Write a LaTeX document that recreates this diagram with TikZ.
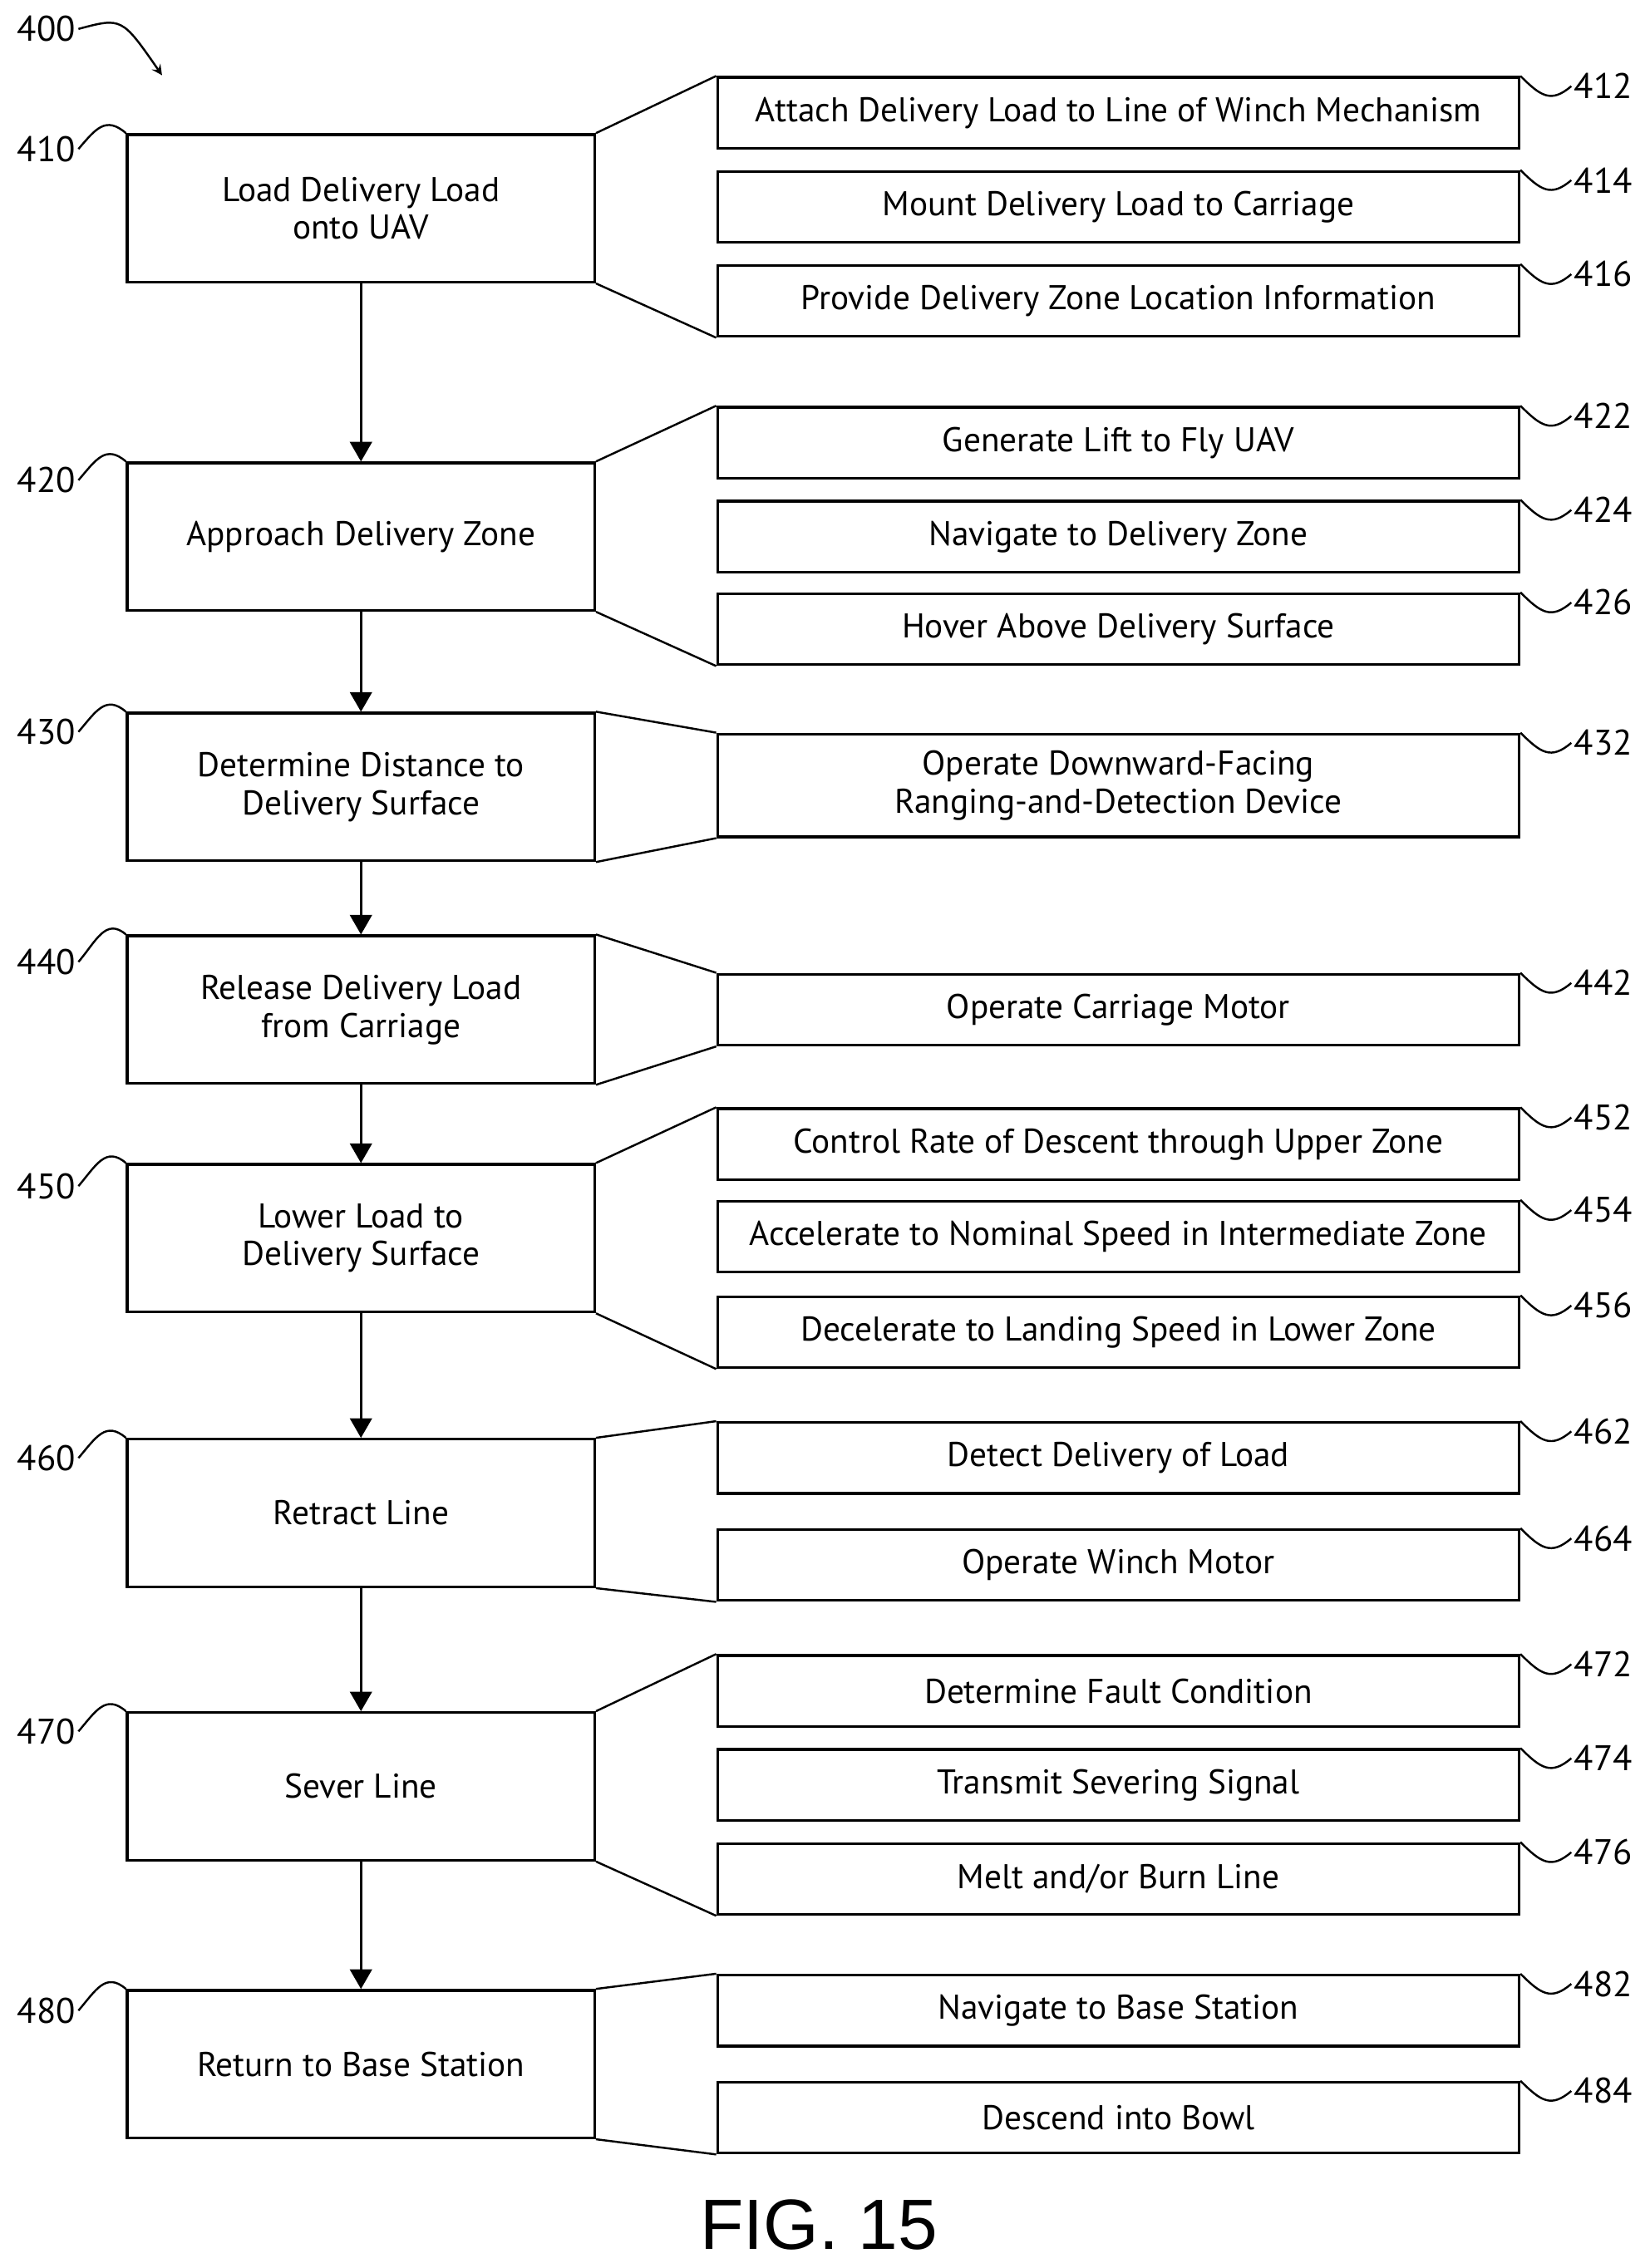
\documentclass[tikz,border=0pt]{standalone}
\usepackage{fontspec}
\setmainfont{PT Sans}
\setsansfont{Liberation Sans}
\usetikzlibrary{arrows,positioning,calc}
\begin{document}
\begin{tikzpicture}[x=0.02cm, y=-0.02cm,
    mainstep/.style={rectangle, draw, line width=1.1pt, minimum width=323*0.02cm, minimum height=102*0.02cm, align=center, font=\fontsize{13.5}{15}\selectfont, inner sep=0pt},
    substep/.style={rectangle, draw, line width=1.1pt, minimum width=554*0.02cm, minimum height=49*0.02cm, align=center, font=\fontsize{13.5}{15}\selectfont, inner sep=0pt},
    num/.style={font=\fontsize{14}{15}\selectfont, inner sep=1pt},
    link/.style={line width=0.8pt},
    sq/.style={line width=0.8pt},
    arrow/.style={-triangle 60, line width=1.1pt}
]
\useasboundingbox (0,0) rectangle (1140,1568);

% Main steps
\node[mainstep] (s410) at (249.5,144) {Load Delivery Load\\onto UAV};
\node[mainstep] (s420) at (249.5,371) {Approach Delivery Zone};
\node[mainstep] (s430) at (249.5,544) {Determine Distance to\\Delivery Surface};
\node[mainstep] (s440) at (249.5,698) {Release Delivery Load\\from Carriage};
\node[mainstep] (s450) at (249.5,856) {Lower Load to\\Delivery Surface};
\node[mainstep] (s460) at (249.5,1046) {Retract Line};
\node[mainstep] (s470) at (249.5,1235) {Sever Line};
\node[mainstep] (s480) at (249.5,1427) {Return to Base Station};

% Sub steps
\node[substep] (s412) at (773,78) {Attach Delivery Load to Line of Winch Mechanism};
\node[substep] (s414) at (773,143) {Mount Delivery Load to Carriage};
\node[substep] (s416) at (773,208) {Provide Delivery Zone Location Information};
\node[substep] (s422) at (773,306) {Generate Lift to Fly UAV};
\node[substep] (s424) at (773,371) {Navigate to Delivery Zone};
\node[substep] (s426) at (773,435) {Hover Above Delivery Surface};
\node[substep, minimum height=71*0.02cm] (s432) at (773,543) {Operate Downward-Facing\\Ranging-and-Detection Device};
\node[substep] (s442) at (773,698) {Operate Carriage Motor};
\node[substep] (s452) at (773,791) {Control Rate of Descent through Upper Zone};
\node[substep] (s454) at (773,855) {Accelerate to Nominal Speed in Intermediate Zone};
\node[substep] (s456) at (773,921) {Decelerate to Landing Speed in Lower Zone};
\node[substep] (s462) at (773,1008) {Detect Delivery of Load};
\node[substep] (s464) at (773,1082) {Operate Winch Motor};
\node[substep] (s472) at (773,1169) {Determine Fault Condition};
\node[substep] (s474) at (773,1234) {Transmit Severing Signal};
\node[substep] (s476) at (773,1299) {Melt and/or Burn Line};
\node[substep] (s482) at (773,1390) {Navigate to Base Station};
\node[substep] (s484) at (773,1464) {Descend into Bowl};

% Arrows
\draw[arrow] (s410) -- (s420);
\draw[arrow] (s420) -- (s430);
\draw[arrow] (s430) -- (s440);
\draw[arrow] (s440) -- (s450);
\draw[arrow] (s450) -- (s460);
\draw[arrow] (s460) -- (s470);
\draw[arrow] (s470) -- (s480);

% Fan lines
\foreach \a/\t/\b in {410/412/416, 420/422/426, 430/432/432, 440/442/442, 450/452/456, 460/462/464, 470/472/476, 480/482/484} {
  \draw[link] (s\a.north east) -- (s\t.north west);
  \draw[link] (s\a.south east) -- (s\b.south west);
}

% Reference numerals
\foreach \n/\y in {410/103, 420/332, 430/506, 440/665, 450/820, 460/1008, 470/1197, 480/1390} {
  \node[num] (l\n) at (32,\y) {\n};
  \draw[sq] (l\n.east) .. controls +(12,-14) and +(-14,-12) .. (s\n.north west);
}
\foreach \n in {412,414,416,422,424,426,432,442,452,454,456,462,464,472,474,476,482,484} {
  \node[num, anchor=west, xshift=20pt, yshift=-4pt] (l\n) at (s\n.north east) {\n};
  \draw[sq] (s\n.north east) .. controls +(14,14) and +(-14,12) .. (l\n.west);
}
\node[num] (l400) at (32,20) {400};
\coordinate (c400) at (112,52);
\draw[sq, ->, >=stealth] (l400.east) .. controls +(30,-8) .. (c400);

\node[font=\fontsize{28}{30}\selectfont\sffamily] (fig) at (566,1538) {FIG. 15};
\end{tikzpicture}
\end{document}
